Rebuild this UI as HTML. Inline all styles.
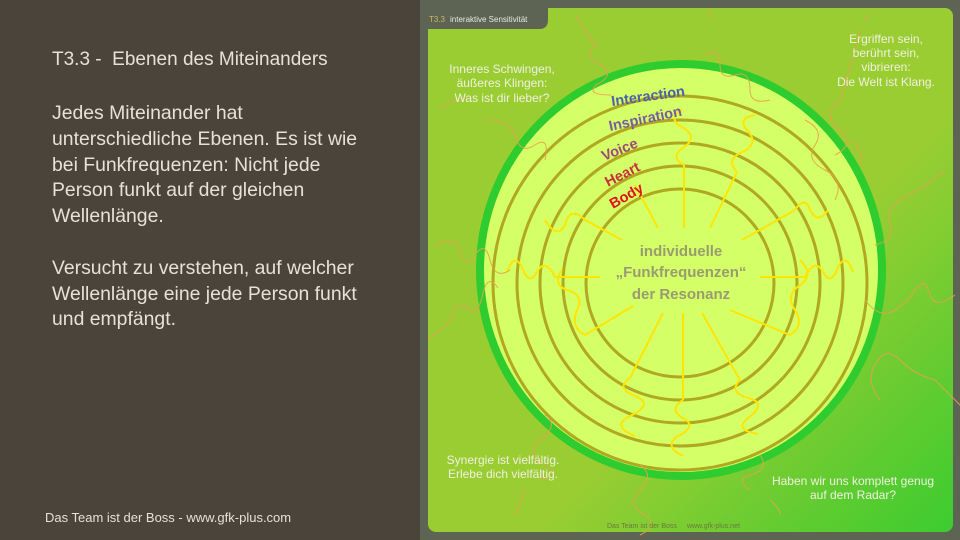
<!DOCTYPE html>
<html><head><meta charset="utf-8"><style>
html,body{margin:0;padding:0;width:960px;height:540px;overflow:hidden;background:#5d6454}
#left{position:absolute;left:0;top:0;width:420px;height:540px;background:#4a443a;color:#e6e2d8;font-family:"Liberation Sans",sans-serif}
.t{position:absolute;left:52px;white-space:nowrap}
</style></head><body>
<div id="left">
<div class="t" style="top:49px;font-size:19px">T3.3 -&nbsp; Ebenen des Miteinanders</div>
<div class="t" style="top:101px;font-size:19.4px;line-height:25.8px">Jedes Miteinander hat<br>unterschiedliche Ebenen. Es ist wie<br>bei Funkfrequenzen: Nicht jede<br>Person funkt auf der gleichen<br>Wellenlänge.<br><br>Versucht zu verstehen, auf welcher<br>Wellenlänge eine jede Person funkt<br>und empfängt.</div>
<div class="t" style="left:45px;top:510px;font-size:13px">Das Team ist der Boss - www.gfk-plus.com</div>
</div>
<svg style="position:absolute;left:420px;top:0" width="540" height="540" viewBox="420 0 540 540" font-family="Liberation Sans, sans-serif">
<defs>
<linearGradient id="g" x1="0" y1="0" x2="1" y2="1">
<stop offset="0.6" stop-color="#9acd32"/><stop offset="1" stop-color="#3ccc30"/>
</linearGradient>
</defs>
<rect x="428" y="8" width="525" height="524" rx="8" fill="url(#g)"/>
<path d="M420 0 H548 V20 Q548 29 539 29 H420 Z" fill="#5d6454"/>
<text x="429" y="22" font-size="8" fill="#c8b860">T3.3</text>
<text x="450" y="22" font-size="8" fill="#e8e8e0">interaktive Sensitivität</text>
<ellipse cx="681" cy="270" rx="201" ry="206" fill="#d4ff66" stroke="#2ecc2e" stroke-width="8"/>
<g fill="none" stroke="#b0a820" stroke-width="3">
<circle cx="680" cy="283" r="94"/>
<circle cx="680" cy="283" r="117"/>
<circle cx="680" cy="283" r="140"/>
<circle cx="680" cy="283" r="163"/>
<circle cx="680" cy="283" r="187"/>
</g>
<g stroke="#ffe600" stroke-width="2" fill="none">
<line x1="684" y1="228" x2="684" y2="165"/>
<line x1="710" y1="228" x2="737" y2="172"/>
<line x1="658" y1="228" x2="635" y2="185"/>
<line x1="742" y1="240" x2="795" y2="210"/>
<line x1="622" y1="240" x2="585" y2="220"/>
<line x1="760" y1="277" x2="805" y2="277"/>
<line x1="600" y1="277" x2="555" y2="277"/>
<line x1="730" y1="310" x2="790" y2="335"/>
<line x1="633" y1="306" x2="585" y2="335"/>
<line x1="663" y1="313" x2="630" y2="378"/>
<line x1="683" y1="313" x2="683" y2="400"/>
<line x1="702" y1="313" x2="740" y2="380"/>
<path d="M684 165 q-15 -8 0 -18 q15 -10 -2 -20 q-15 -8 0 -18"/>
<path d="M737 172 q-12 -12 5 -20 q18 -8 5 -22 q-10 -12 8 -15"/>
<path d="M630 378 q-15 10 5 18 q20 8 -5 20 q-20 10 5 20"/>
<path d="M683 400 q-15 10 0 18 q15 8 -5 18 q-15 10 5 20"/>
<path d="M740 380 q-12 12 8 18 q20 5 0 20 q-15 12 10 16"/>
<path d="M790 335 q15 -10 5 -25 q-10 -15 5 -25 q15 -10 0 -25"/>
<path d="M585 335 q-15 -8 -8 -25 q8 -15 -10 -20 q-15 -5 -5 -20"/>
<path d="M805 277 q10 -20 18 -5 q8 15 15 -5 q8 -15 15 5"/>
<path d="M555 277 q-10 -20 -18 -5 q-8 15 -15 -5 q-8 -15 -15 5"/>
<path d="M585 220 q-15 -15 -20 5 q-8 15 -20 -5"/>
<path d="M795 210 q10 -15 15 0 q8 15 18 0"/>
</g>
<g stroke="#e8a050" stroke-width="1" fill="none" opacity="0.9">
<path d="M576 15 q10 20 20 30 q-15 10 5 20 q15 10 -5 20 q-10 10 15 10"/>
<path d="M705 55 q15 -10 15 10 q0 15 15 10 q15 -5 15 15 q0 15 20 10"/>
<path d="M860 30 q-10 40 -20 70 q-20 15 0 30 q15 15 -5 25"/>
<path d="M805 120 q20 10 10 25 q-10 15 10 25 q20 10 10 30"/>
<path d="M945 170 q-25 20 -45 30 q-15 10 -10 25 q5 15 -15 20"/>
<path d="M435 245 q20 -10 25 5 q5 20 15 5 q10 -15 15 5 q5 20 20 10"/>
<path d="M485 120 q25 0 30 15 q5 20 20 10 q15 -10 10 15"/>
<path d="M440 110 q15 -15 30 -10"/>
<path d="M428 338 q20 -10 25 -25 q5 -15 15 -5 q10 10 15 -15 q5 -20 15 -5"/>
<path d="M545 415 q15 10 -5 25 q-15 15 5 25 q15 10 -5 15"/>
<path d="M525 490 l-10 25"/>
<path d="M640 465 q15 10 0 25 q-15 15 5 25 q15 10 -5 20"/>
<path d="M760 455 q10 15 -10 20 q-15 5 0 15"/>
<path d="M770 500 q10 8 10 15"/>
<path d="M880 400 q-15 -20 -5 -35 q10 -20 25 -5 q15 15 35 20 l30 30"/>
<path d="M865 300 q15 20 30 10 q15 -10 20 -20 q10 -15 15 5 q5 15 25 0"/>
<path d="M850 140 q15 10 10 25"/>
<path d="M710 10 l0 8"/><path d="M868 15 l-4 6"/>
</g>
<g font-weight="bold" font-size="14.5">
<text x="612" y="106" fill="#5060a8" transform="rotate(-8 612 106)">Interaction</text>
<text x="610" y="131" fill="#7a5aa0" transform="rotate(-12 610 131)">Inspiration</text>
<text x="604" y="161" fill="#a04878" transform="rotate(-22 604 161)">Voice</text>
<text x="608" y="187" fill="#c83040" transform="rotate(-27 608 187)">Heart</text>
<text x="613" y="209" fill="#e01020" transform="rotate(-30 613 209)">Body</text>
</g>
<g font-weight="bold" font-size="15" fill="#999c70" text-anchor="middle">
<text x="681" y="256">individuelle</text>
<text x="681" y="277">„Funkfrequenzen“</text>
<text x="681" y="299">der Resonanz</text>
</g>
<g font-size="12" fill="#f0f0e0" text-anchor="middle">
<text x="502" y="73">Inneres Schwingen,</text>
<text x="502" y="87">äußeres Klingen:</text>
<text x="502" y="102">Was ist dir lieber?</text>
<text x="886" y="43">Ergriffen sein,</text>
<text x="886" y="57">berührt sein,</text>
<text x="886" y="71">vibrieren:</text>
<text x="886" y="86">Die Welt ist Klang.</text>
<text x="503" y="464">Synergie ist vielfältig.</text>
<text x="503" y="478">Erlebe dich vielfältig.</text>
<text x="853" y="485">Haben wir uns komplett genug</text>
<text x="853" y="499">auf dem Radar?</text>
</g>
<text x="607" y="528" font-size="7" fill="#6a7a40">Das Team ist der Boss</text>
<text x="687" y="528" font-size="7" fill="#6a7a40">www.gfk-plus.net</text>
</svg>
</body></html>
